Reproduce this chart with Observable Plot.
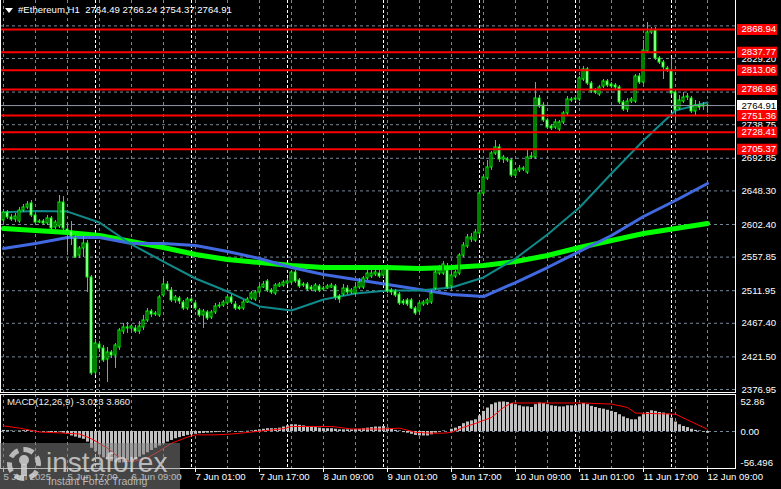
<!DOCTYPE html>
<html><head><meta charset="utf-8">
<script src="https://cdn.jsdelivr.net/npm/d3@7"></script>
<script src="https://cdn.jsdelivr.net/npm/@observablehq/plot@0.6"></script>
<style>
html,body{margin:0;padding:0;background:#000;overflow:hidden;}
#wrap{position:relative;width:781px;height:489px;overflow:hidden;background:#000;font-family:"Liberation Sans",Arial,sans-serif;}
#main{position:absolute;left:0;top:0;}
#macd{position:absolute;left:0;top:393px;}
.frame{position:absolute;border:1px solid #fff;pointer-events:none;}
#title{position:absolute;left:18px;top:4px;color:#fff;font-size:9.6px;line-height:12px;white-space:pre;}
#tri{position:absolute;left:5px;top:8px;width:0;height:0;border-left:4px solid transparent;border-right:4px solid transparent;border-top:5px solid #fff;}
#mlabel{position:absolute;left:7px;top:396px;color:#eee;font-size:9.6px;line-height:12px;white-space:pre;}
#wm{position:absolute;left:0;top:443px;width:180px;height:50px;background:rgba(125,125,125,0.55);}
#wm .big{position:absolute;left:46px;top:6px;font-size:28px;line-height:28px;color:rgba(220,220,220,0.78);}
#wm .small{position:absolute;left:48px;top:32px;font-size:10.5px;line-height:12px;color:rgba(220,220,220,0.78);}
#wm .gear{position:absolute;left:7px;top:4px;width:24px;height:24px;border:5px dashed rgba(220,220,220,0.78);border-radius:50%;}
#wm .head{position:absolute;left:19px;top:12px;width:10px;height:10px;border-radius:50%;background:rgba(220,220,220,0.78);}
#wm .body{position:absolute;left:21px;top:21px;width:6px;height:12px;background:rgba(220,220,220,0.78);}
</style></head>
<body><div id="wrap">
<div id="main"></div><div id="macd"></div>
<div class="frame" style="left:0;top:-1px;width:734px;height:392px;"></div>
<div class="frame" style="left:0;top:394px;width:734px;height:73px;"></div>
<div id="tri"></div>
<div id="title">#Ethereum,H1  2764.49 2766.24 2754.37 2764.91</div>
<div id="mlabel">MACD(12,26,9) -3.023 3.860</div>
<div id="wm"><div class="gear"></div><div class="head"></div><div class="body"></div><div class="big">instaforex</div><div class="small">Instant Forex Trading</div></div>
</div>
<script>
// ---- data (H1 bars, 5 Jun 01:00 .. 12 Jun 09:00) ----
const opens = [
2607.9,2618.8,2612.0,2609.2,2606.5,2621.5,2625.6,2631.1,2614.7,2605.1,
2606.5,2603.8,2610.6,2598.3,2599.7,2632.4,2595.6,2592.8,2583.3,2560.0,
2569.6,2576.4,2530.0,2400.2,2438.4,2433.0,2417.9,2427.5,2423.4,2434.3,
2456.2,2461.7,2460.3,2460.3,2456.2,2461.7,2471.2,2483.5,2479.4,2478.1,
2505.4,2520.4,2512.2,2498.6,2501.3,2495.8,2487.6,2499.9,2494.5,2484.9,
2478.1,2482.2,2475.3,2482.2,2490.4,2491.7,2494.5,2502.7,2493.1,2489.0,
2487.6,2495.8,2501.3,2499.9,2509.5,2516.3,2524.5,2512.2,2508.1,2517.7,
2519.0,2521.8,2523.1,2536.8,2525.9,2520.4,2520.4,2516.3,2512.2,2517.7,
2513.6,2514.9,2516.3,2517.7,2504.0,2506.7,2514.9,2509.5,2508.1,2516.3,
2516.3,2528.6,2531.3,2534.1,2535.4,2532.7,2540.9,2512.2,2510.8,2506.7,
2497.2,2498.6,2498.6,2487.6,2483.5,2493.1,2494.5,2495.8,2514.9,2535.4,
2535.4,2539.5,2517.7,2531.3,2535.4,2560.0,2572.3,2581.9,2580.5,2590.1,
2644.7,2665.2,2680.3,2699.4,2707.6,2691.2,2689.8,2689.8,2669.3,2676.2,
2677.5,2673.4,2693.9,2693.9,2774.5,2765.0,2744.5,2736.3,2734.9,2732.2,
2741.8,2754.1,2771.8,2773.2,2773.2,2800.5,2814.2,2795.0,2785.5,2780.0,
2790.9,2797.8,2793.7,2792.3,2789.6,2769.1,2759.5,2770.4,2770.4,2804.6,
2796.4,2838.8,2864.7,2867.5,2829.2,2823.7,2815.5,2812.8,2782.7,2760.9,
2770.4,2775.9,2774.5,2756.8,2765.0,2763.6,2764.49];
const highs = [
2622.9,2621.5,2616.1,2617.4,2625.6,2629.7,2633.8,2635.2,2617.4,2609.2,
2609.2,2614.7,2613.3,2607.9,2642.0,2640.6,2603.8,2606.5,2587.4,2572.3,
2586.0,2580.5,2532.7,2445.3,2442.5,2437.1,2434.3,2430.2,2439.8,2460.3,
2467.1,2468.5,2465.8,2464.4,2469.9,2478.1,2487.6,2486.3,2483.5,2505.4,
2528.6,2524.5,2516.3,2505.4,2504.0,2498.6,2502.7,2504.0,2497.2,2487.6,
2486.3,2484.9,2484.9,2494.5,2495.8,2498.6,2506.7,2506.7,2497.2,2491.7,
2498.6,2502.7,2510.8,2512.2,2520.4,2524.5,2527.2,2514.9,2521.8,2523.1,
2525.9,2528.6,2539.5,2539.5,2528.6,2523.1,2523.1,2519.0,2521.8,2520.4,
2517.7,2520.4,2521.8,2520.4,2506.7,2520.4,2519.0,2514.9,2521.8,2528.6,
2531.3,2539.5,2539.5,2542.3,2539.5,2545.0,2545.0,2514.9,2513.6,2509.5,
2499.9,2501.3,2501.3,2490.4,2497.2,2498.6,2501.3,2512.2,2545.0,2546.4,
2551.8,2549.1,2536.8,2539.5,2562.8,2577.8,2588.7,2590.1,2595.6,2648.8,
2670.7,2689.8,2702.1,2717.2,2711.7,2696.7,2693.9,2692.6,2678.9,2683.0,
2681.6,2703.5,2700.8,2796.4,2778.6,2769.1,2747.2,2739.0,2745.9,2744.5,
2756.8,2777.3,2775.9,2778.6,2804.6,2818.3,2816.9,2797.8,2788.2,2792.3,
2800.5,2800.5,2796.4,2795.0,2792.3,2771.8,2774.5,2775.9,2807.3,2808.7,
2853.8,2878.4,2871.6,2871.6,2831.9,2826.5,2818.3,2829.2,2785.5,2778.6,
2782.7,2781.4,2777.3,2771.8,2770.4,2769.1,2766.24];
const lows = [
2605.1,2609.2,2606.5,2605.1,2603.8,2618.8,2622.9,2612.0,2603.8,2603.8,
2601.0,2601.0,2594.2,2595.6,2596.9,2591.5,2564.1,2573.7,2555.9,2555.9,
2557.3,2509.5,2396.1,2396.1,2427.5,2413.8,2386.5,2419.3,2405.6,2430.2,
2452.1,2453.5,2456.2,2453.5,2452.1,2457.6,2468.5,2475.3,2476.7,2475.3,
2502.7,2510.8,2495.8,2494.5,2493.1,2484.9,2484.9,2494.5,2484.9,2475.3,
2460.3,2471.2,2472.6,2479.4,2487.6,2489.0,2491.7,2493.1,2484.9,2484.9,
2484.9,2494.5,2498.6,2497.2,2506.7,2514.9,2509.5,2506.7,2505.4,2516.3,
2516.3,2519.0,2520.4,2521.8,2514.9,2516.3,2510.8,2510.8,2509.5,2509.5,
2510.8,2513.6,2514.9,2498.6,2494.5,2504.0,2506.7,2506.7,2505.4,2513.6,
2513.6,2525.9,2528.6,2531.3,2528.6,2530.0,2508.1,2505.4,2502.7,2491.7,
2491.7,2490.4,2486.3,2478.1,2479.4,2490.4,2491.7,2493.1,2512.2,2532.7,
2532.7,2513.6,2514.9,2528.6,2532.7,2557.3,2569.6,2577.8,2577.8,2587.4,
2640.6,2662.5,2676.2,2696.7,2687.1,2685.7,2687.1,2666.6,2665.2,2673.4,
2674.8,2670.7,2691.2,2691.2,2760.9,2741.8,2732.2,2730.8,2732.2,2729.5,
2739.0,2751.3,2769.1,2770.4,2770.4,2797.8,2792.3,2781.4,2780.0,2777.3,
2788.2,2789.6,2788.2,2786.8,2766.3,2756.8,2755.4,2767.7,2767.7,2793.7,
2793.7,2836.0,2862.0,2826.5,2821.0,2800.5,2810.1,2778.6,2743.1,2758.2,
2767.7,2771.8,2754.1,2750.0,2758.2,2758.2,2754.37];
const closes = [
2618.8,2612.0,2609.2,2613.3,2621.5,2625.6,2629.7,2614.7,2605.1,2606.5,
2603.8,2610.6,2596.9,2605.1,2632.4,2596.9,2592.8,2586.0,2557.3,2569.6,
2576.4,2530.0,2398.8,2439.8,2433.0,2416.6,2427.5,2423.4,2437.1,2457.6,
2461.7,2460.3,2463.0,2456.2,2463.0,2471.2,2483.5,2479.4,2480.8,2502.7,
2520.4,2513.6,2498.6,2502.7,2497.2,2487.6,2499.9,2497.2,2487.6,2478.1,
2483.5,2474.0,2482.2,2490.4,2491.7,2495.8,2502.7,2495.8,2487.6,2486.9,
2495.8,2499.9,2508.1,2509.5,2516.3,2520.4,2512.2,2509.5,2519.0,2520.4,
2523.1,2524.5,2536.8,2524.5,2517.7,2519.0,2513.6,2513.6,2519.0,2512.2,
2514.9,2517.7,2519.0,2502.7,2499.9,2514.9,2509.5,2512.2,2516.3,2523.1,
2528.6,2535.4,2535.4,2536.8,2531.3,2540.9,2510.8,2509.5,2505.4,2494.5,
2494.5,2493.1,2487.6,2480.8,2494.5,2495.8,2498.6,2508.1,2536.8,2539.5,
2547.7,2516.3,2532.7,2536.8,2560.0,2573.7,2584.6,2584.6,2591.5,2644.7,
2666.6,2680.3,2699.4,2707.6,2691.2,2693.9,2691.2,2669.3,2676.2,2678.9,
2678.9,2693.9,2695.3,2774.5,2763.6,2744.5,2734.9,2733.6,2741.8,2741.8,
2754.1,2773.2,2773.2,2774.5,2801.9,2814.2,2795.0,2784.1,2782.7,2789.6,
2797.8,2792.3,2790.9,2789.6,2769.1,2759.5,2770.4,2773.2,2804.6,2796.4,
2840.1,2864.7,2867.5,2829.2,2823.7,2816.9,2812.8,2781.4,2758.2,2771.8,
2775.9,2777.3,2756.8,2765.0,2762.2,2765.0,2764.91];

// moving averages, sampled every 8 bars
const maIdx = [0,8,16,24,32,40,48,56,64,72,80,88,96,104,112,120,128,136,144,152,160,168,176];
const maTeal = [2619.0,2621.0,2620.0,2605.1,2575.1,2551.8,2528.6,2510.8,2490.4,2484.9,2499.9,2508.1,2512.2,2512.2,2516.3,2530.0,2555.9,2588.7,2625.6,2672.1,2717.2,2758.2,2769.1];
const maBlue = [2569.6,2576.4,2584.6,2584.6,2576.4,2576.4,2573.7,2565.5,2555.9,2543.6,2534.1,2527.2,2520.4,2513.6,2506.7,2504.0,2523.1,2543.6,2565.5,2587.4,2613.3,2635.2,2658.4];
const maGreen = [2596.9,2594.2,2591.5,2587.4,2579.2,2571.0,2561.4,2554.6,2550.5,2546.4,2543.6,2543.6,2543.6,2542.3,2543.6,2546.4,2551.8,2560.0,2571.0,2580.5,2590.1,2596.9,2603.8];

// MACD main (histogram) per bar
const macdMain = [
2,1.5,1,0.5,1,1.5,2,1.5,0.5,-0.5,
-1,-1,-2,-2.5,-1,-3,-5,-8,-10,-12,
-14,-19,-30,-36,-42,-47,-51,-54,-56,-56.496,
-56,-55,-53.5,-50,-46,-42,-38,-34,-30,-26,
-22,-19,-16,-13,-11,-9,-7,-6,-5,-4,
-3.5,-3,-2.5,-2,-1.5,-1,0,0.5,-0.5,-1,
-0.5,0.5,1,2,3,4,5,5,5,6,
8,10,12,12,11,10,9,8,7,6,
5,5,5,4,3,3,3,3,4,4,
5,6,7,8,8,9,6,4,2,1,
-2,-3,-5,-7,-8,-8,-8,-6,-3,-1,
1,0,4,6,9,14,17,19,21,28,
36,42,48,51,52.5,52.86,52,50,48,46,
44,44,43,48,51,50,48,46,45,44,
44,46,46,46,48,50,48,45,43,41,
40,38,36,34,30,26,23,21,21,26,
30,34,37,36,34,33,31,24,17,12,
9,7,4,2,1,-1,-3.023];
// MACD signal, sampled
const signalIdx = [0,4,9,14,19,22,26,29,32,36,39,42,46,48,53,57,62,70,72,82,87,95,99,103,107,110,112,115,118,122,125,127,131,137,145,152,156,158,168,176];
const signalVals = [10,6,-1,-2.5,-4.5,-13,-30,-47,-54.5,-47,-35,-21,-10,-6,-6,-4.5,-1,5,9,9,4.5,4.5,6,-1.5,-3,-3,-1.5,7.5,14.5,25,43,51,51,51,51,49,43,33,31,3.86];

// axes / levels
const priceGrid = [2376.95,2421.50,2467.40,2511.95,2557.85,2602.40,2648.30,2692.85,2738.75,2783.30,2829.20,2873.75];
const priceLabels = [2376.95,2421.50,2467.40,2511.95,2557.85,2602.40,2648.30,2692.85,2738.75,2783.30,2829.20];
const levels = [2868.94,2837.77,2813.06,2786.96,2751.36,2728.41,2705.37];
const lastPrice = 2764.91;
const macdTicks = [52.86, 0, -56.496];
const macdTickText = ["52.86","0.00","-56.496"];
const timeLabels = ["5 Jun 2025","5 Jun 17:00","6 Jun 09:00","7 Jun 01:00","7 Jun 17:00","8 Jun 09:00","9 Jun 01:00","9 Jun 17:00","10 Jun 09:00","11 Jun 01:00","11 Jun 17:00","12 Jun 09:00"];
const timeIdx = [0,16,32,48,64,80,96,112,128,144,160,176];
const gridIdx = [0,8,16,24,32,40,48,56,64,72,80,88,96,104,112,120,128,136,144,152,160,168,176];
const sepIdx = [23,47,71,95,119,143,167];

// ---- build ----
const bars = opens.map((o, i) => ({i, o, h: highs[i], l: lows[i], c: closes[i]}));
const maRows = maIdx.map((i, k) => ({i, teal: maTeal[k], blue: maBlue[k], green: maGreen[k]}));
const macdRows = macdMain.map((v, i) => ({i, v}));
const sigRows = signalIdx.map((i, k) => ({i, v: signalVals[k]}));

const GRID = "#778899";
const LIME = "#00ff00";
const BOX_L = 183.5, BOX_R = 193.5;
const FS = 9.6;
const style = {background: "#000", color: "#fff", fontFamily: "Liberation Sans, Arial, sans-serif", fontSize: "9.6px", overflow: "visible"};
const X = {type: "linear", domain: [-0.75, 183.25], axis: null};
const fmt = d3.format(".2f");

const main = Plot.plot({
  width: 781, height: 393,
  marginLeft: 0, marginRight: 45, marginTop: 0, marginBottom: 1,
  x: X,
  y: {type: "linear", domain: [2372.85, 2908.44], axis: null},
  style,
  marks: [
    Plot.ruleY(priceGrid, {y: d => d, stroke: GRID, strokeDasharray: "3,3"}),
    Plot.ruleX(gridIdx, {x: d => d, stroke: GRID, strokeDasharray: "3,3"}),
    Plot.ruleX(sepIdx, {x: d => d, stroke: "#fff", strokeDasharray: "3,2"}),
    Plot.line(maRows, {x: "i", y: "green", stroke: LIME, strokeWidth: 5}),
    Plot.line(maRows, {x: "i", y: "blue", stroke: "#4169e1", strokeWidth: 3}),
    Plot.line(maRows, {x: "i", y: "teal", stroke: "#108a8a", strokeWidth: 2}),
    Plot.ruleX(bars, {x: "i", y1: "l", y2: "h", stroke: LIME}),
    Plot.rect(bars, {x1: d => d.i - 0.25, x2: d => d.i + 0.25, y1: "o", y2: "c",
      fill: d => d.c >= d.o ? "#000" : "#fff", stroke: LIME, strokeWidth: 1}),
    Plot.ruleY([lastPrice], {y: d => d, stroke: "#8c99a6"}),
    Plot.ruleY(levels, {y: d => d, stroke: "#ff0000", strokeWidth: 2}),
    Plot.text(priceLabels, {y: d => d, text: d => fmt(d), frameAnchor: "right", dx: 5, textAnchor: "start", fill: "#fff", fontSize: FS}),
    Plot.ruleY([lastPrice], {y: d => d, x1: () => BOX_L, x2: () => BOX_R, stroke: "#fff", strokeWidth: 11}),
    Plot.text([lastPrice], {y: d => d, text: d => fmt(d), frameAnchor: "right", dx: 5, textAnchor: "start", fill: "#000", fontSize: FS}),
    Plot.ruleY(levels, {y: d => d, x1: () => BOX_L, x2: () => BOX_R, stroke: "#ff0000", strokeWidth: 11}),
    Plot.text(levels, {y: d => d, text: d => fmt(d), frameAnchor: "right", dx: 5, textAnchor: "start", fill: "#fff", fontSize: FS})
  ]
});
document.getElementById("main").appendChild(main);

const macd = Plot.plot({
  width: 781, height: 96,
  marginLeft: 0, marginRight: 45, marginTop: 1, marginBottom: 21,
  x: X,
  y: {type: "linear", domain: [-66.2, 66.2], axis: null},
  style,
  marks: [
    Plot.ruleX(gridIdx, {x: d => d, stroke: GRID, strokeDasharray: "3,3"}),
    Plot.ruleX(sepIdx, {x: d => d, stroke: "#fff", strokeDasharray: "3,2"}),
    Plot.ruleY([0], {y: d => d, stroke: GRID, strokeDasharray: "3,3"}),
    Plot.ruleX(macdRows, {x: "i", y1: () => 0, y2: "v", stroke: "#c0c0c0", strokeWidth: 3}),
    Plot.line(sigRows, {x: "i", y: "v", stroke: "#ff0000", strokeWidth: 1}),
    Plot.text(macdTicks, {y: d => d, text: (d, k) => macdTickText[k], frameAnchor: "right", dx: 4, textAnchor: "start", fill: "#fff", fontSize: FS}),
    Plot.ruleX(timeIdx, {x: d => d, stroke: "#fff", insetTop: 74, insetBottom: -4}),
    Plot.text(timeIdx, {x: d => d, text: (d, k) => timeLabels[k], frameAnchor: "bottom", dy: 11, textAnchor: "start", fill: "#fff", fontSize: FS})
  ]
});
document.getElementById("macd").appendChild(macd);
</script>
</body></html>
